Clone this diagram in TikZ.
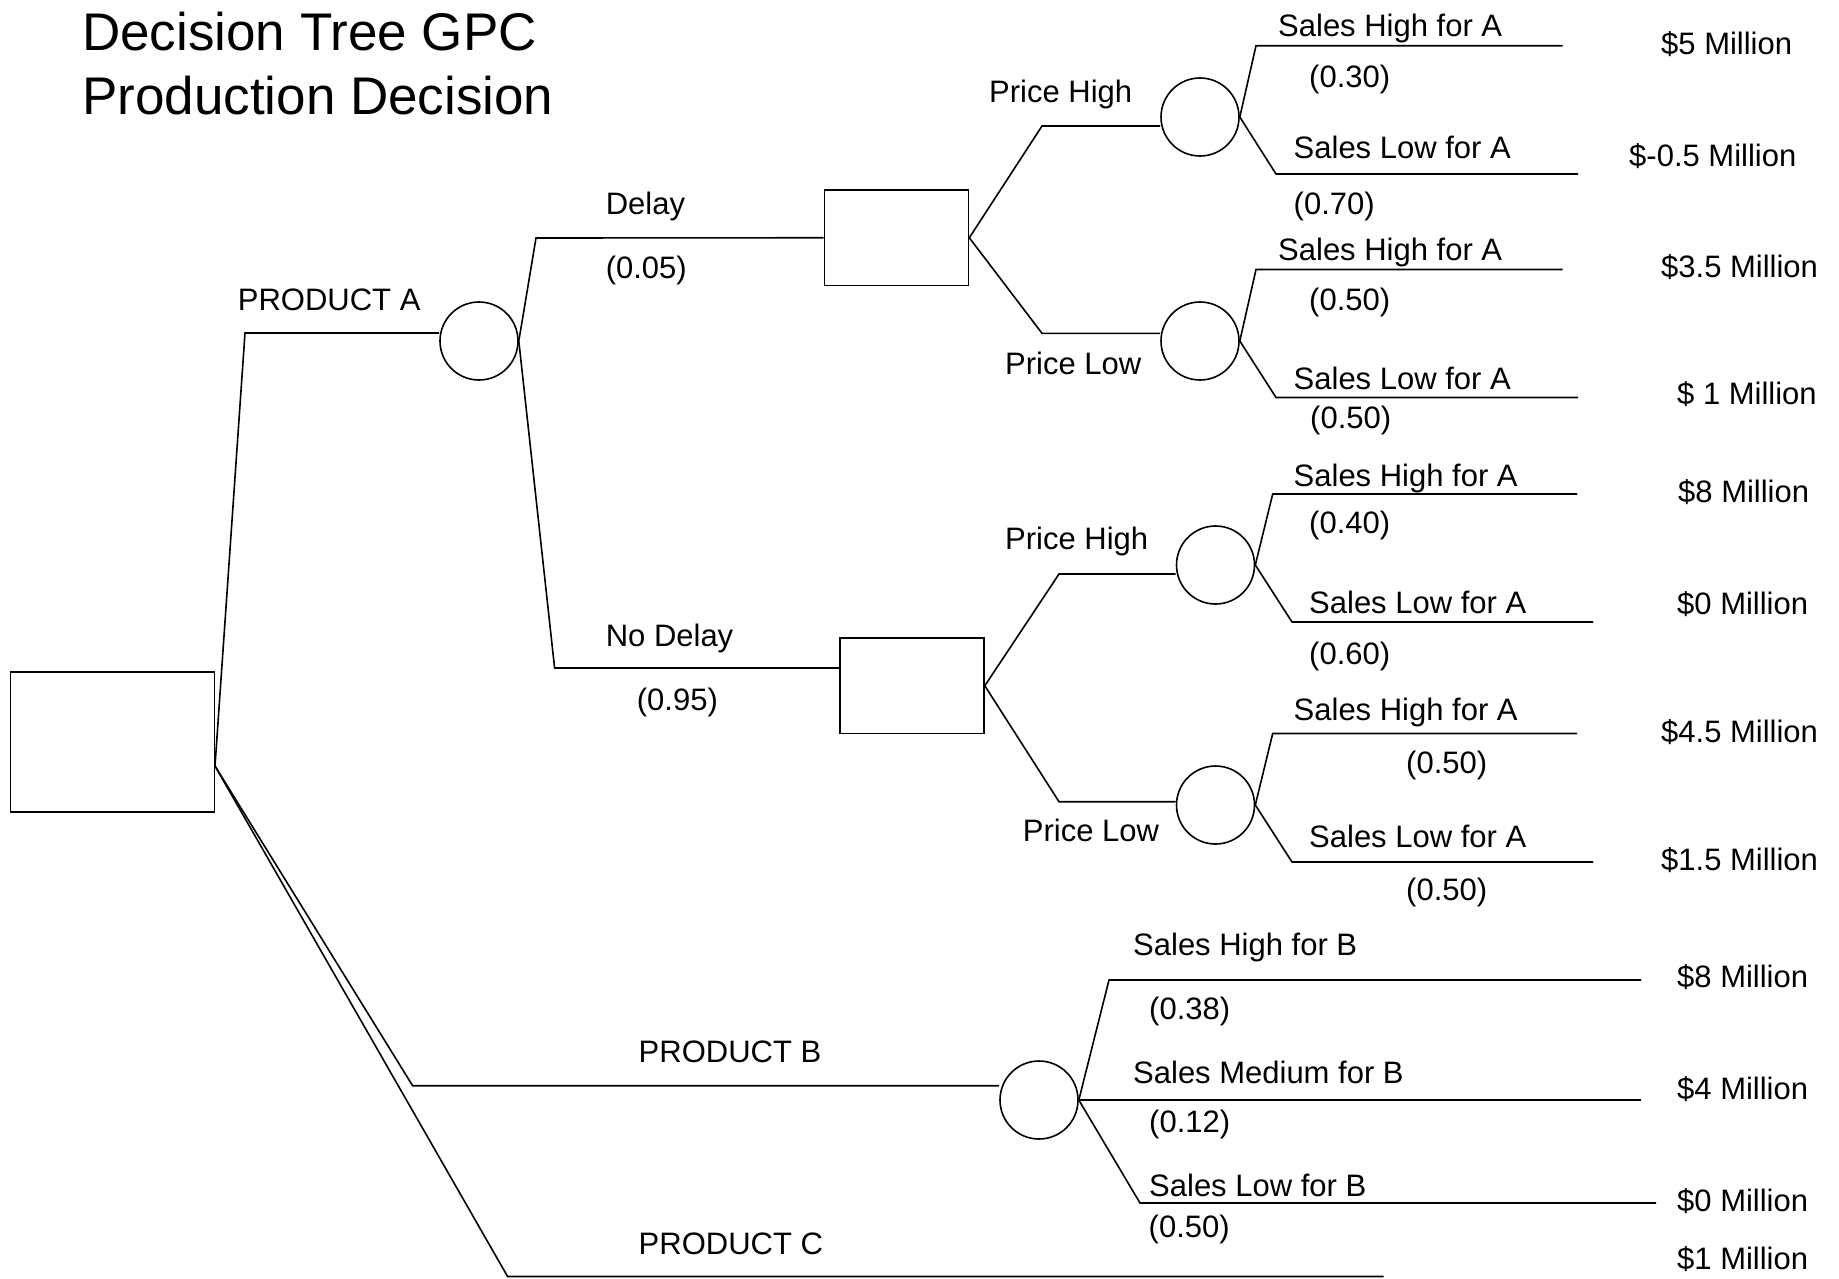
\documentclass[tikz,border=0pt]{standalone}
\usepackage{fontspec}
\setmainfont{Liberation Sans}
\newcommand{\lblfont}{\fontsize{31}{36}\selectfont}
\newcommand{\ttlfont}{\fontsize{53}{60}\selectfont}
\tikzset{
  link/.style={line width=1.6pt, line join=miter},
  decbox/.style={draw, rectangle, line width=1.6pt, inner sep=0pt},
  chance/.style={draw, circle, line width=1.6pt, inner sep=0pt, minimum size=78pt},
  lbl/.style={anchor=base west, inner sep=0pt, font=\lblfont},
  ttl/.style={anchor=base west, inner sep=0pt, font=\ttlfont},
}
\begin{document}
\begin{tikzpicture}[x=1pt, y=-1pt]
\fill[white] (0,0) rectangle (1839,1278);
\useasboundingbox (0,0) rectangle (1839,1278);

% title
\node[ttl] (t1) at (82,50) {Decision Tree GPC};
\node[ttl] (t2) at (82,114) {Production Decision};

% decision boxes
\node[decbox, minimum width=204pt, minimum height=140pt] (root) at (112.5,742) {};
\node[decbox, minimum width=144pt, minimum height=95.5pt] (dly) at (896.5,237.75) {};
\node[decbox, minimum width=144pt, minimum height=95.5pt] (ndly) at (912,685.75) {};

% chance nodes
\node[chance] (cA) at (479,341) {};
\node[chance] (cPH1) at (1200,117) {};
\node[chance] (cPL1) at (1200,341) {};
\node[chance] (cPH2) at (1215.5,565) {};
\node[chance] (cPL2) at (1215.5,805) {};
\node[chance] (cB) at (1039,1100) {};

% bend / end coordinates
\coordinate (j0) at (215,766);
\coordinate (bA) at (245,333);
\coordinate (bB) at (412.6,1085.7);
\coordinate (bC) at (507.6,1276.5);
\coordinate (eC) at (1383.6,1276.5);
\coordinate (bD) at (536,238);
\coordinate (bND) at (554.6,668);
\coordinate (b1h) at (1042,126);
\coordinate (b1l) at (1042,333.3);
\coordinate (b2h) at (1059,574);
\coordinate (b2l) at (1059,801.7);
\coordinate (s1a) at (1256,45.7);   \coordinate (e1a) at (1562.6,45.7);
\coordinate (s1b) at (1276,174);    \coordinate (e1b) at (1578,174);
\coordinate (s2a) at (1256,269.5);  \coordinate (e2a) at (1562.6,269.5);
\coordinate (s2b) at (1276,397.5);  \coordinate (e2b) at (1578,397.5);
\coordinate (s3a) at (1272.7,494);  \coordinate (e3a) at (1577,494);
\coordinate (s3b) at (1292,622);    \coordinate (e3b) at (1593,622);
\coordinate (s4a) at (1272.7,733.5);\coordinate (e4a) at (1577,733.5);
\coordinate (s4b) at (1292,862);    \coordinate (e4b) at (1593,862);
\coordinate (s5a) at (1109,980);    \coordinate (e5a) at (1641,980);
\coordinate (e5m) at (1641,1100);
\coordinate (s5c) at (1140,1203);   \coordinate (e5c) at (1656,1203);

% root branches
\draw[link] (j0) -- (bA) -- (bA -| cA.west);
\draw[link] (j0) -- (bB) -- (bB -| cB.west);
\draw[link] (j0) -- (bC) -- (eC);

% product A branches
\draw[link] (cA.east) -- (bD) -- (dly.west);
\draw[link] (cA.east) -- (bND) -- (bND -| ndly.west);

% price branches
\draw[link] (dly.east) -- (b1h) -- (b1h -| cPH1.west);
\draw[link] (dly.east) -- (b1l) -- (b1l -| cPL1.west);
\draw[link] (ndly.east) -- (b2h) -- (b2h -| cPH2.west);
\draw[link] (ndly.east) -- (b2l) -- (b2l -| cPL2.west);

% sales branches
\draw[link] (cPH1.east) -- (s1a) -- (e1a);
\draw[link] (cPH1.east) -- (s1b) -- (e1b);
\draw[link] (cPL1.east) -- (s2a) -- (e2a);
\draw[link] (cPL1.east) -- (s2b) -- (e2b);
\draw[link] (cPH2.east) -- (s3a) -- (e3a);
\draw[link] (cPH2.east) -- (s3b) -- (e3b);
\draw[link] (cPL2.east) -- (s4a) -- (e4a);
\draw[link] (cPL2.east) -- (s4b) -- (e4b);
\draw[link] (cB.east) -- (s5a) -- (e5a);
\draw[link] (cB.east) -- (e5m);
\draw[link] (cB.east) -- (s5c) -- (e5c);

% labels
\node[lbl] (lA) at (237.7,310) {PRODUCT A};
\node[lbl] (lB) at (638.5,1062.5) {PRODUCT B};
\node[lbl] (lC) at (638.5,1254) {PRODUCT C};
\node[lbl] (lD) at (605.6,214) {Delay};
\node[lbl] (pD) at (605.6,278) {(0.05)};
\node[lbl] (lND) at (605.6,646) {No Delay};
\node[lbl] (pND) at (636.7,710) {(0.95)};
\node[lbl] (lPH1) at (989,102.5) {Price High};
\node[lbl] (lPL1) at (1005,374) {Price Low};
\node[lbl] (lPH2) at (1005,549) {Price High};
\node[lbl] (lPL2) at (1022.7,841) {Price Low};

\node[lbl] (l1a) at (1278,36.5) {Sales High for A};
\node[lbl] (p1a) at (1309,87) {(0.30)};
\node[lbl] (l1b) at (1293.5,158.5) {Sales Low for A};
\node[lbl] (p1b) at (1293.5,214.5) {(0.70)};
\node[lbl] (l2a) at (1278,260.5) {Sales High for A};
\node[lbl] (p2a) at (1309,310.5) {(0.50)};
\node[lbl] (l2b) at (1293.5,389) {Sales Low for A};
\node[lbl] (p2b) at (1310,428) {(0.50)};
\node[lbl] (l3a) at (1293.5,486.5) {Sales High for A};
\node[lbl] (p3a) at (1309,533.3) {(0.40)};
\node[lbl] (l3b) at (1309,613) {Sales Low for A};
\node[lbl] (p3b) at (1309,664) {(0.60)};
\node[lbl] (l4a) at (1293.5,720.5) {Sales High for A};
\node[lbl] (p4a) at (1406,773.3) {(0.50)};
\node[lbl] (l4b) at (1309,847.5) {Sales Low for A};
\node[lbl] (p4b) at (1406,900) {(0.50)};
\node[lbl] (l5a) at (1133,955.5) {Sales High for B};
\node[lbl] (p5a) at (1149,1019) {(0.38)};
\node[lbl] (l5m) at (1133,1083) {Sales Medium for B};
\node[lbl] (p5m) at (1149,1132.5) {(0.12)};
\node[lbl] (l5c) at (1149,1196) {Sales Low for B};
\node[lbl] (p5c) at (1148.5,1237.5) {(0.50)};

% payoffs
\node[lbl] (v1a) at (1661,54) {\$5 Million};
\node[lbl] (v1b) at (1629,166) {\$-0.5 Million};
\node[lbl] (v2a) at (1661,277.5) {\$3.5 Million};
\node[lbl] (v2b) at (1677,404) {\$ 1 Million};
\node[lbl] (v3a) at (1678,502.5) {\$8 Million};
\node[lbl] (v3b) at (1677,614) {\$0 Million};
\node[lbl] (v4a) at (1661,742.5) {\$4.5 Million};
\node[lbl] (v4b) at (1661,870) {\$1.5 Million};
\node[lbl] (v5a) at (1677,987.5) {\$8 Million};
\node[lbl] (v5m) at (1677,1099.5) {\$4 Million};
\node[lbl] (v5c) at (1677,1211.5) {\$0 Million};
\node[lbl] (v6) at (1677,1269) {\$1 Million};
\end{tikzpicture}
\end{document}
